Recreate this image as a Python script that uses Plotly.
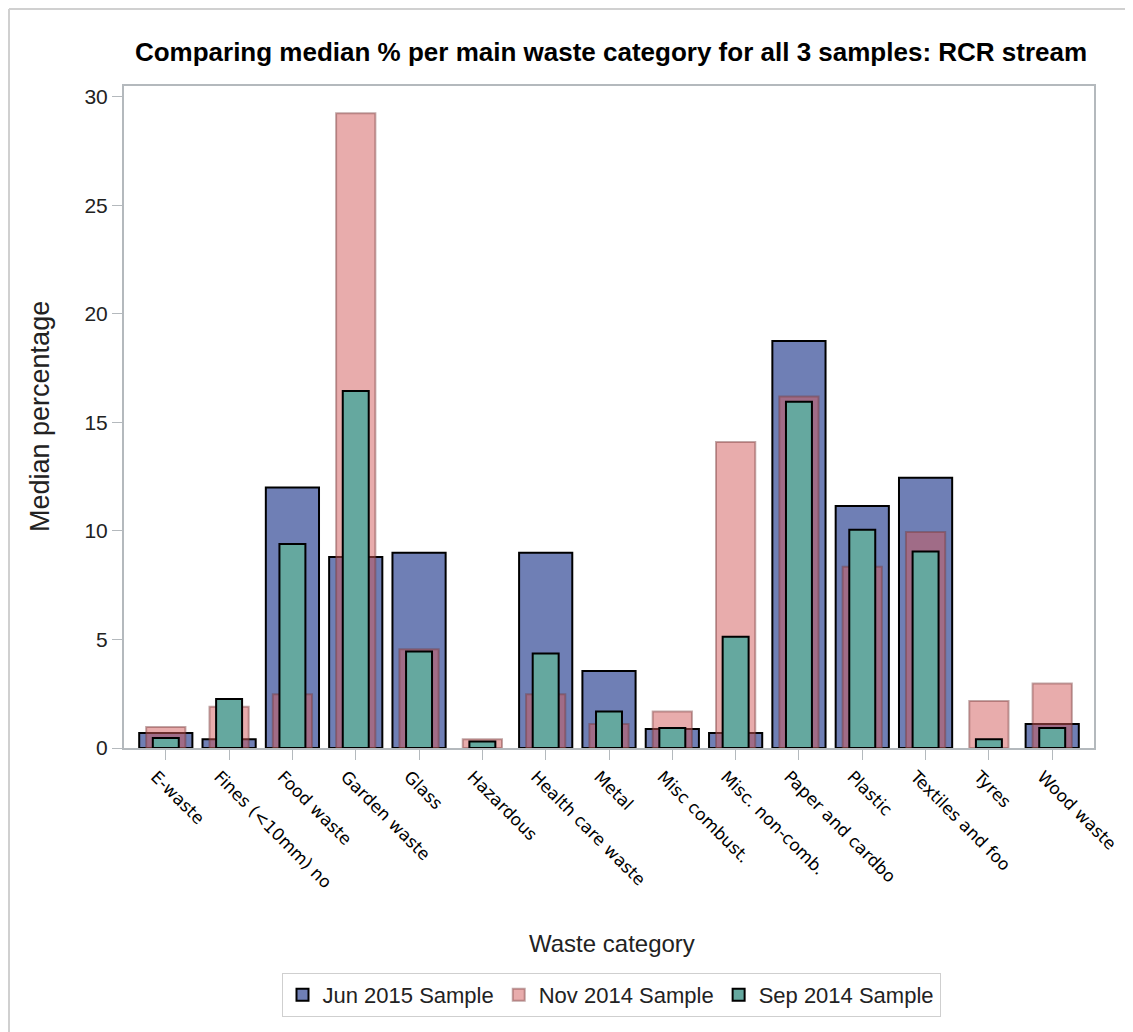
import plotly.graph_objects as go

categories = ["E-waste", "Fines (<10mm) no", "Food waste", "Garden waste", "Glass",
              "Hazardous", "Health care waste", "Metal", "Misc combust.", "Misc. non-comb.",
              "Paper and cardbo", "Plastic", "Textiles and foo", "Tyres", "Wood waste"]

jun_2015 = [0.69, 0.40, 12.0, 8.8, 9.0, None, 9.0, 3.55, 0.88, 0.69, 18.75, 11.15, 12.45, None, 1.1]
nov_2014 = [0.97, 1.90, 2.48, 29.25, 4.55, 0.40, 2.48, 1.10, 1.68, 14.1, 16.2, 8.35, 9.95, 2.17, 2.97]
sep_2014 = [0.46, 2.26, 9.4, 16.45, 4.45, 0.30, 4.35, 1.68, 0.92, 5.12, 15.95, 10.05, 9.05, 0.40, 0.92]

series_names = ["Jun 2015 Sample", "Nov 2014 Sample", "Sep 2014 Sample"]

FONT = "Liberation Sans, Arial, sans-serif"

# page has an 8px body margin; layout uses figure coords (page coords - 8)
W, H = 1133, 1032
L, R, T, B = 116, 1086, 78, 740
PW, PH = R - L, B - T

fig = go.Figure()
fig.add_trace(go.Bar(x=categories, y=jun_2015, name=series_names[0], width=0.84,
                     marker=dict(color="rgb(111,127,181)", line=dict(color="black", width=2))))
fig.add_trace(go.Bar(x=categories, y=nov_2014, name=series_names[1], width=0.62,
                     marker=dict(color="rgba(209,89,89,0.5)", line=dict(color="rgba(120,60,60,0.45)", width=2))))
fig.add_trace(go.Bar(x=categories, y=sep_2014, name=series_names[2], width=0.41,
                     marker=dict(color="rgb(101,168,159)", line=dict(color="black", width=2))))

fig.update_layout(
    barmode="overlay",
    width=W, height=H,
    paper_bgcolor="white", plot_bgcolor="white",
    margin=dict(l=L, r=W - R, t=T, b=H - B),
    font=dict(family=FONT, color="#222", size=18),
    title=dict(text="<b>Comparing median % per main waste category for all 3 samples: RCR stream</b>",
               x=(603 - L) / PW, xref="paper", xanchor="center", y=1 - 44 / H, yanchor="middle",
               font=dict(family=FONT, size=26, color="black")),
    showlegend=True,
    legend=dict(orientation="h", x=(603 - L) / PW, xanchor="center", y=-(965 - B) / PH, yanchor="top",
                bordercolor="#cfcfcf", borderwidth=1, font=dict(family=FONT, size=22, color="#222"),
                traceorder="normal", itemsizing="constant"),
    xaxis=dict(type="category", range=[-0.66, 14.66], tickangle=45,
               showline=True, linecolor="#b4b9bd", linewidth=2, mirror=True,
               ticks="outside", ticklen=10, tickcolor="#b4b9bd", tickwidth=1,
               ticklabelshift=-10,
               tickfont=dict(family="DejaVu Sans, sans-serif", size=17, color="black"),
               showgrid=False, zeroline=False),
    yaxis=dict(range=[0, 30.5], tickvals=[0, 5, 10, 15, 20, 25, 30],
               showline=True, linecolor="#b4b9bd", linewidth=2, mirror=True,
               ticks="outside", ticklen=10, tickcolor="#b4b9bd", tickwidth=1,
               tickfont=dict(family=FONT, size=21, color="#222"),
               showgrid=False, zeroline=False),
    annotations=[
        dict(text="Median percentage", xref="paper", yref="paper",
             x=-(L - 32) / PW, y=(B - 409) / PH, textangle=-90, showarrow=False,
             xanchor="center", yanchor="middle", font=dict(family=FONT, size=27, color="#222")),
        dict(text="Waste category", xref="paper", yref="paper",
             x=(604 - L) / PW, y=-(935 - B) / PH, showarrow=False,
             xanchor="center", yanchor="middle", font=dict(family=FONT, size=24, color="#222")),
    ],
    shapes=[
        dict(type="line", xref="paper", yref="paper", x0=(1 - L) / PW, x1=(1 - L) / PW,
             y0=(B - 1) / PH, y1=(B - H) / PH, line=dict(color="#d0d0d0", width=2)),
        dict(type="line", xref="paper", yref="paper", x0=(1 - L) / PW, x1=(W - L) / PW,
             y0=(B - 1) / PH, y1=(B - 1) / PH, line=dict(color="#d0d0d0", width=2)),
    ],
)

fig.write_html("out.html")
